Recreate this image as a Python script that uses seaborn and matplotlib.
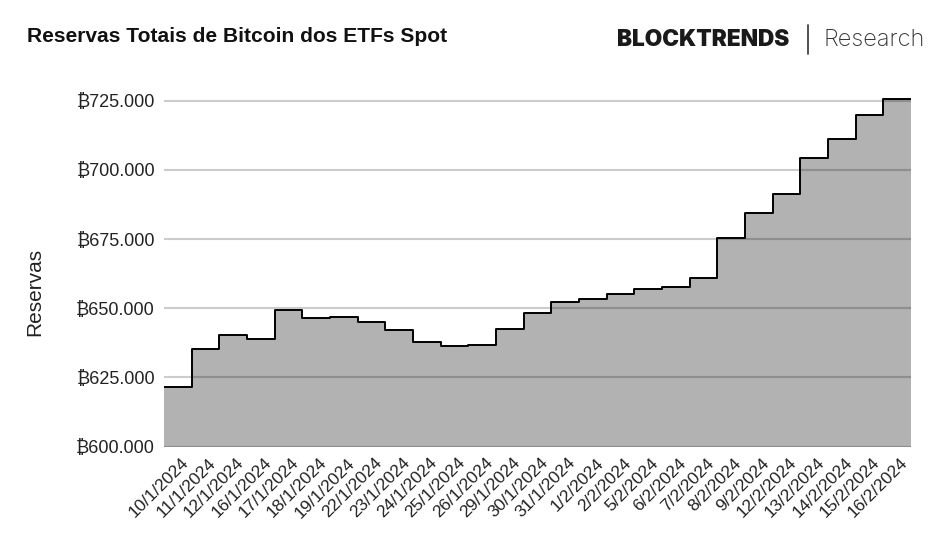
import matplotlib
matplotlib.use("Agg")
import matplotlib.pyplot as plt
import matplotlib.transforms as mtransforms
from matplotlib.ticker import FuncFormatter
import seaborn as sns
import pandas as pd
import numpy as np

dates = ["10/1/2024", "11/1/2024", "12/1/2024", "16/1/2024", "17/1/2024", "18/1/2024",
         "19/1/2024", "22/1/2024", "23/1/2024", "24/1/2024", "25/1/2024", "26/1/2024",
         "29/1/2024", "30/1/2024", "31/1/2024", "1/2/2024", "2/2/2024", "5/2/2024",
         "6/2/2024", "7/2/2024", "8/2/2024", "9/2/2024", "12/2/2024", "13/2/2024",
         "14/2/2024", "15/2/2024", "16/2/2024"]
reserves = [621700, 635300, 640200, 638900, 649400, 646400, 646700, 644900, 642200,
            637900, 636400, 636600, 642400, 648400, 652400, 653500, 655300, 657000,
            657800, 660800, 675500, 684300, 691300, 704200, 711100, 719800, 725600]
y_ticks = [600000, 625000, 650000, 675000, 700000, 725000]

sns.set_theme(style="white")
plt.rcParams["font.family"] = ["Liberation Sans", "Noto Sans", "DejaVu Sans"]

n = len(dates)
df = pd.DataFrame({"pos": list(range(n)) + [n], "reservas": reserves + [reserves[-1]]})

fig = plt.figure(figsize=(9.35, 5.36), dpi=100)
ax = fig.add_axes([164 / 935, 1 - 446.7 / 536, 747 / 935, (446.7 - 95) / 536])

ax.set_ylim(600000, 727000)
ax.set_xlim(0, n)
ax.set_yticks(y_ticks)
ax.yaxis.grid(True, color="#cccccc", linewidth=1.5, zorder=0)
ax.xaxis.grid(False)
ax.set_axisbelow(True)

ax.fill_between(df["pos"], df["reservas"], 600000, step="post",
                color="black", alpha=0.30, linewidth=0, zorder=1)
sns.lineplot(data=df, x="pos", y="reservas", drawstyle="steps-post",
             color="black", linewidth=1.4, ax=ax, zorder=2,
             solid_joinstyle="round", solid_capstyle="round")

ax.yaxis.set_major_formatter(FuncFormatter(lambda v, p: "₿" + f"{v:,.0f}".replace(",", ".")))
ax.tick_params(axis="y", labelsize=13, colors="#222222", length=0, pad=6.5)
ax.set_xticks(np.arange(n) + 0.5)
ax.set_xticklabels(dates, rotation=45, ha="right", va="center", rotation_mode="anchor",
                   fontsize=12.5, color="#222222")
ax.tick_params(axis="x", length=0, pad=10)
offset = mtransforms.ScaledTranslation(8 / 100, 0, fig.dpi_scale_trans)
for lab in ax.get_xticklabels():
    lab.set_transform(lab.get_transform() + offset)

ax.set_xlabel("")
ax.set_ylabel("")
for s in ax.spines.values():
    s.set_visible(False)

fig.text(35 / 935, 1 - 292 / 536, "Reservas", fontsize=15, color="#222222",
         rotation=90, ha="center", va="center")

fig.text(27 / 935, 1 - 42 / 536, "Reservas Totais de Bitcoin dos ETFs Spot",
         fontsize=15.1, fontweight="bold", color="#111111", ha="left", va="baseline")
fig.text(617 / 935, 1 - 46 / 536, "BLOCKTRENDS", fontsize=16.3, fontweight="black",
         family=["Inter", "Lato", "DejaVu Sans"], color="#1a1a1a", ha="left", va="baseline")
fig.add_artist(plt.Line2D([808 / 935, 808 / 935], [1 - 54 / 536, 1 - 25 / 536],
                          transform=fig.transFigure, color="#333333", linewidth=1.2))
fig.text(823 / 935, 1 - 46 / 536, "Research", fontsize=17, fontweight="light",
         family=["Inter", "Lato", "DejaVu Sans"], color="#333333", ha="left", va="baseline")

fig.savefig("out.png", dpi=100, facecolor="white")
